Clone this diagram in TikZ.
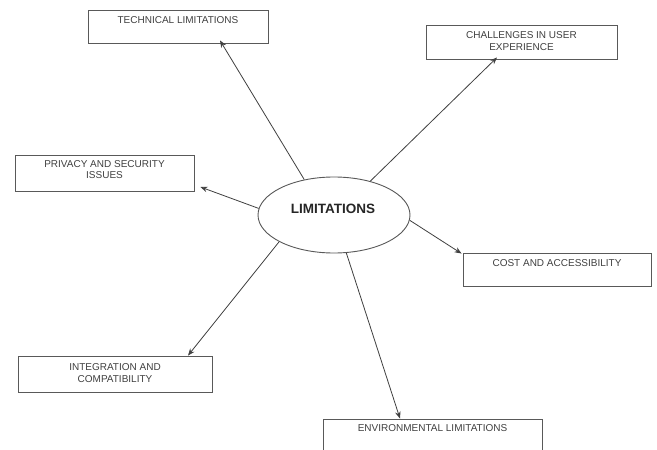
\documentclass[tikz,border=0pt]{standalone}
\usepackage{fontspec}
\setmainfont{Liberation Sans}
\usetikzlibrary{arrows.meta,shapes.geometric}
\begin{document}
\begin{tikzpicture}[x=1pt,y=-1pt,
  boxst/.style={draw=black!65,line width=0.9pt,fill=white,rectangle,inner sep=0pt},
  txt/.style={font=\fontsize{10}{12}\selectfont,text=black!75,align=center,inner sep=0pt},
  arr/.style={draw=black!75,line width=0.8pt,-{Stealth[length=7pt,width=5.5pt]}}]
\useasboundingbox (0,0) rectangle (657,450);
\fill[white] (0,0) rectangle (657,450);
% ellipse
\node[draw=black!65,line width=0.9pt,ellipse,minimum width=152pt,minimum height=76pt,inner sep=0pt] (ell) at (334,215) {};
\node[font=\fontsize{13.5}{15}\selectfont\bfseries,text=black!85,inner sep=0pt] (ellt) at (333,209) {LIMITATIONS};
% boxes
\node[boxst,minimum width=180pt,minimum height=33pt] (tech) at (178,26.5) {};
\node[txt] (techt) at (178,20) {TECHNICAL LIMITATIONS};
\node[boxst,minimum width=191pt,minimum height=34pt] (chall) at (521.5,42) {};
\node[txt] (challt) at (521.5,41) {CHALLENGES IN USER\\EXPERIENCE};
\node[boxst,minimum width=179pt,minimum height=36pt] (priv) at (104.5,173) {};
\node[txt,font=\fontsize{10}{11}\selectfont] (privt) at (104.5,169.5) {PRIVACY AND SECURITY\\ISSUES};
\node[boxst,minimum width=188pt,minimum height=33pt] (cost) at (557,269.5) {};
\node[txt] (costt) at (557,263) {COST AND ACCESSIBILITY};
\node[boxst,minimum width=194pt,minimum height=36pt] (integ) at (115,374) {};
\node[txt] (integt) at (115,373) {INTEGRATION AND\\COMPATIBILITY};
\node[boxst,minimum width=219pt,minimum height=44pt] (env) at (432.5,441) {};
\node[txt] (envt) at (432.5,428) {ENVIRONMENTAL LIMITATIONS};
% arrows
\draw[arr] (ell.130) -- ([xshift=42pt,yshift=3pt]tech.south);
\draw[arr] (ell.43) -- ([xshift=-24.5pt,yshift=2pt]chall.south);
\draw[arr] (ell.175) -- ([xshift=6pt,yshift=-14pt]priv.east);
\draw[arr] (ell.-4) -- ([xshift=-1pt,yshift=-1pt]cost.north west);
\draw[arr] (ell.206) -- ([xshift=73pt]integ.north);
\draw[arr] (ell.-72) -- ([xshift=-32.5pt]env.north);
\end{tikzpicture}
\end{document}
